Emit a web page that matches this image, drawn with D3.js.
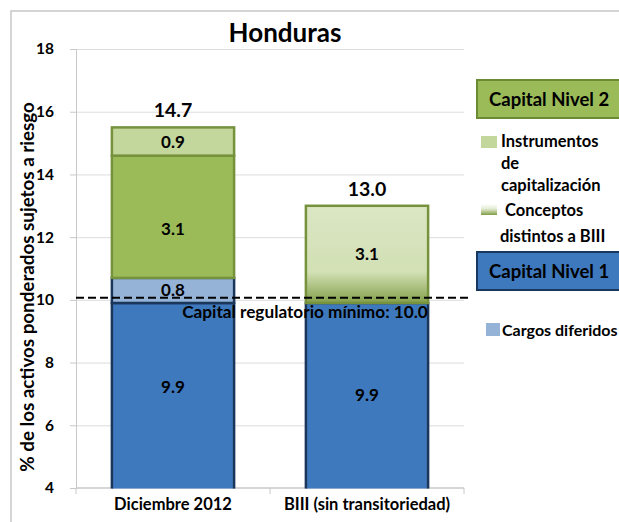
<!DOCTYPE html>
<html>
<head>
<meta charset="utf-8">
<script src="https://cdn.jsdelivr.net/npm/d3@7"></script>
<style>
  body { margin: 0; background: #fff; }
  svg { font-family: Lato, "Open Sans", sans-serif; font-weight: bold; }
</style>
</head>
<body>
<svg id="chart" width="619" height="522"></svg>
<script>
// datos
const categories = ["Diciembre 2012", "BIII (sin transitoriedad)"];
const nivel1 = [9.9, 9.9];
const cargosDiferidos = [0.8, 0];
const nivel2 = [3.1, 0];
const nivel2SinEtiqueta = [0.8, 0];
const instrumentos = [0.9, 0];
const conceptosBIII = [0, 3.1];
const totales = ["14.7", "13.0"];
const yTicks = [4, 6, 8, 10, 12, 14, 16, 18];
const minimoRegulatorio = 10.0;

const svg = d3.select("#chart");

const plot = { left: 76, right: 464, top: 49, bottom: 488 };

const x = d3.scaleBand().domain(categories)
  .range([plot.left, plot.right])
  .paddingInner(0.37).paddingOuter(0.185);
const y = d3.scaleLinear().domain([4, 18]).range([plot.bottom, plot.top]);

// marco
svg.append("path")
  .attr("d", "M11,522 V11 H619")
  .attr("fill", "none").attr("stroke", "#c8c8c8").attr("stroke-width", 1.5);

const defs = svg.append("defs");
const grad = defs.append("linearGradient").attr("id", "gradBIII")
  .attr("x1", 0).attr("y1", 0).attr("x2", 0).attr("y2", 1);
grad.append("stop").attr("offset", "0%").attr("stop-color", "#dbe6c4");
grad.append("stop").attr("offset", "68%").attr("stop-color", "#d2e0b4");
grad.append("stop").attr("offset", "100%").attr("stop-color", "#83a04a");

const gradLeg = defs.append("linearGradient").attr("id", "gradLeg")
  .attr("x1", 0).attr("y1", 0).attr("x2", 0).attr("y2", 1);
gradLeg.append("stop").attr("offset", "0%").attr("stop-color", "#ffffff");
gradLeg.append("stop").attr("offset", "45%").attr("stop-color", "#e3ebd2");
gradLeg.append("stop").attr("offset", "100%").attr("stop-color", "#7f9c45");

defs.append("clipPath").attr("id", "plotClip")
  .append("rect")
  .attr("x", plot.left - 10).attr("y", plot.top - 40)
  .attr("width", plot.right - plot.left + 20)
  .attr("height", plot.bottom - plot.top + 40.5);

// rejilla
svg.append("g").selectAll("line")
  .data(yTicks.slice(1))
  .join("line")
  .attr("x1", plot.left).attr("x2", plot.right)
  .attr("y1", d => y(d) + 0.5).attr("y2", d => y(d) + 0.5)
  .attr("stroke", "#dcdcdc");

// ejes
const yAxis = svg.append("g")
  .attr("transform", `translate(${plot.left},0)`)
  .call(d3.axisLeft(y).tickValues(yTicks).tickSize(6).tickPadding(16).tickFormat(d3.format("d")));
yAxis.select(".domain").attr("stroke", "#c8c8c8");
yAxis.selectAll(".tick line").attr("stroke", "#c8c8c8");
yAxis.selectAll(".tick text")
  .attr("font-size", 15.5).attr("font-family", "Lato").attr("font-weight", "bold")
  .attr("fill", "#000");

const xAxisG = svg.append("g").attr("transform", `translate(0,${plot.bottom})`);
xAxisG.append("line")
  .attr("x1", plot.left).attr("x2", plot.right)
  .attr("stroke", "#c8c8c8").attr("stroke-width", 1.5);
const step = x.step();
xAxisG.selectAll(".sep")
  .data([0, 1, 2])
  .join("line")
  .attr("class", "sep")
  .attr("x1", i => plot.left + i * step).attr("x2", i => plot.left + i * step)
  .attr("y1", 0).attr("y2", 6)
  .attr("stroke", "#c8c8c8");
xAxisG.selectAll("text")
  .data(categories)
  .join("text")
  .attr("x", d => x(d) + x.bandwidth() / 2)
  .attr("y", 22)
  .attr("text-anchor", "middle")
  .attr("font-size", 16.5)
  .text(d => d);

// barras apiladas
const rows = categories.map((c, i) => ({
  cat: c,
  nivel1: nivel1[i],
  cargos: cargosDiferidos[i],
  nivel2: nivel2[i],
  nivel2Extra: nivel2SinEtiqueta[i],
  instrumentos: instrumentos[i],
  conceptos: conceptosBIII[i]
}));
const keys = ["nivel1", "cargos", "nivel2", "nivel2Extra", "instrumentos", "conceptos"];
const styles = {
  nivel1: { fill: "#3f79bd", stroke: "#1b365b" },
  cargos: { fill: "#95b3d7", stroke: "#1b365b" },
  nivel2: { fill: "#9bbb59", stroke: "#76923c" },
  instrumentos: { fill: "#c3d69b", stroke: "#76923c" },
  conceptos: { fill: "url(#gradBIII)", stroke: "#76923c" }
};
const labelNudge = { nivel1: [-8, 0] };
const series = d3.stack().keys(keys)(rows);
const byKey = Object.fromEntries(series.map(s => [s.key, s]));

const barsG = svg.append("g").attr("clip-path", "url(#plotClip)");
const labelsG = svg.append("g");

series.forEach(s => {
  if (s.key === "nivel2Extra") return;
  const st = styles[s.key];
  s.forEach((d, i) => {
    const v = d[1] - d[0];
    if (v <= 0) return;
    // el tramo sin etiqueta se dibuja unido al de Nivel 2
    const top = s.key === "nivel2" ? byKey.nivel2Extra[i][1] : d[1];
    const xb = x(d.data.cat);
    barsG.append("rect")
      .attr("x", xb).attr("width", x.bandwidth())
      .attr("y", y(top)).attr("height", y(d[0]) - y(top))
      .attr("fill", st.fill)
      .attr("stroke", st.stroke).attr("stroke-width", 2.5);
    const lo = Math.max(d[0], 4);
    const nudge = (labelNudge[s.key] || [])[i] || 0;
    labelsG.append("text")
      .attr("x", xb + x.bandwidth() / 2)
      .attr("y", (y(lo) + y(d[1])) / 2 + 6 + nudge)
      .attr("text-anchor", "middle")
      .attr("font-size", 17)
      .text(d3.format(".1f")(v));
  });
});

// totales
const tops = rows.map((r, i) => d3.max(series, s => s[i][1]));
labelsG.selectAll(".total")
  .data(categories)
  .join("text")
  .attr("class", "total")
  .attr("x", d => x(d) + x.bandwidth() / 2)
  .attr("y", (d, i) => y(tops[i]) - 10)
  .attr("text-anchor", "middle")
  .attr("font-size", 19.5)
  .text((d, i) => totales[i]);

// mínimo regulatorio
svg.append("line")
  .attr("x1", plot.left).attr("x2", 472)
  .attr("y1", y(minimoRegulatorio) - 2).attr("y2", y(minimoRegulatorio) - 2)
  .attr("stroke", "#000").attr("stroke-width", 2)
  .attr("stroke-dasharray", "8,4");
svg.append("text")
  .attr("x", 305).attr("y", y(minimoRegulatorio) + 18)
  .attr("text-anchor", "middle").attr("font-size", 17.2)
  .text("Capital regulatorio mínimo: " + d3.format(".1f")(minimoRegulatorio));

// título
svg.append("text")
  .attr("x", 285).attr("y", 42)
  .attr("text-anchor", "middle").attr("font-size", 26)
  .text("Honduras");

// título del eje y
svg.append("text")
  .attr("transform", "translate(34,287) rotate(-90)")
  .attr("text-anchor", "middle").attr("font-size", 18.8)
  .text("% de los activos ponderados sujetos a riesgo");

// leyenda
const leg = svg.append("g");
leg.append("rect").attr("x", 477).attr("y", 80).attr("width", 170).attr("height", 38)
  .attr("fill", "#9bbb59").attr("stroke", "#6b8a34").attr("stroke-width", 2);
leg.append("text").attr("x", 489).attr("y", 106).attr("font-size", 18.5).text("Capital Nivel 2");

leg.append("rect").attr("x", 481).attr("y", 136).attr("width", 16).attr("height", 12)
  .attr("fill", "#c3d69b");
leg.append("text").attr("x", 501).attr("y", 147).attr("font-size", 16.5)
  .selectAll("tspan")
  .data(["Instrumentos", "de", "capitalización"])
  .join("tspan")
  .attr("x", 501).attr("dy", (d, i) => i ? 22 : 0)
  .text(d => d);

leg.append("rect").attr("x", 481).attr("y", 204).attr("width", 16).attr("height", 11)
  .attr("fill", "url(#gradLeg)");
leg.append("text").attr("x", 505).attr("y", 216).attr("font-size", 16.5).text("Conceptos");
leg.append("text").attr("x", 500).attr("y", 242).attr("font-size", 16.5).text("distintos a BIII");

leg.append("rect").attr("x", 477).attr("y", 252).attr("width", 170).attr("height", 38)
  .attr("fill", "#3f79bd").attr("stroke", "#17375e").attr("stroke-width", 2);
leg.append("text").attr("x", 489).attr("y", 278).attr("font-size", 18.5).text("Capital Nivel 1");

leg.append("rect").attr("x", 486).attr("y", 323).attr("width", 14).attr("height", 13)
  .attr("fill", "#95b3d7");
leg.append("text").attr("x", 502).attr("y", 336).attr("font-size", 16).text("Cargos diferidos");
</script>
</body>
</html>
